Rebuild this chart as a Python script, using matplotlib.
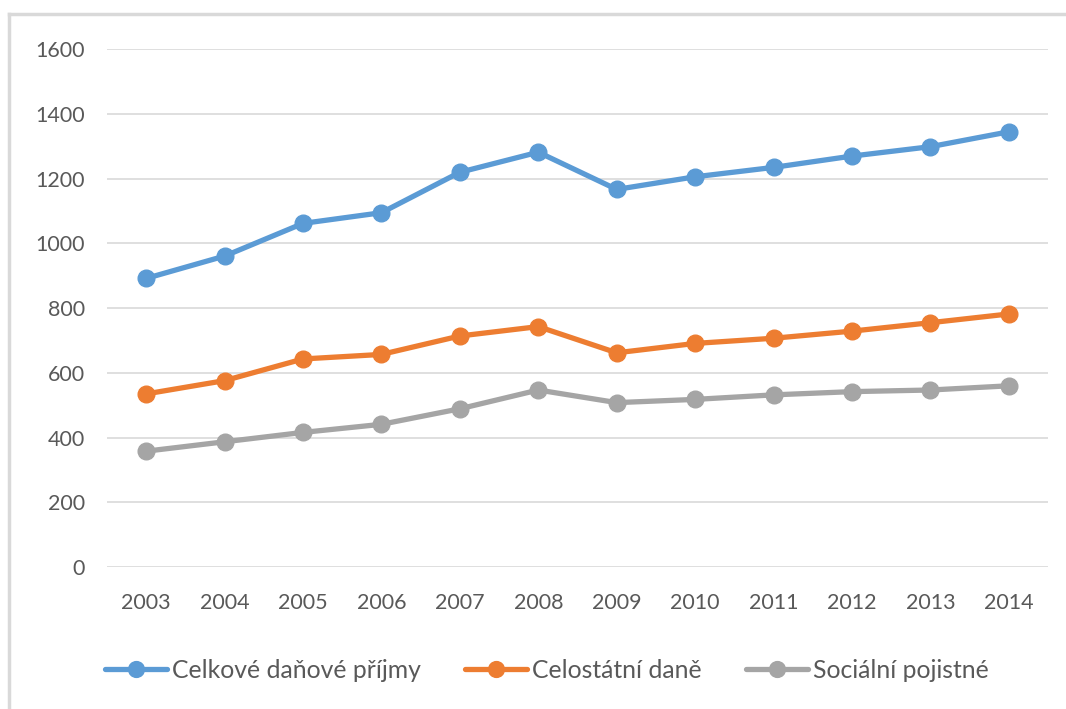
import matplotlib
matplotlib.use("Agg")
import matplotlib.pyplot as plt
from matplotlib.lines import Line2D

# Tax revenue series (bn CZK)
years = ["2003", "2004", "2005", "2006", "2007", "2008",
         "2009", "2010", "2011", "2012", "2013", "2014"]
celkove = [892, 961, 1062, 1095, 1220, 1282, 1167, 1206, 1235, 1270, 1299, 1345]
celostatni = [535, 576, 643, 657, 714, 743, 662, 691, 707, 729, 755, 782]
socialni = [358, 387, 416, 441, 489, 547, 508, 518, 532, 542, 547, 560]

series_names = ["Celkové daňové příjmy", "Celostátní daně", "Sociální pojistné"]
colors = ["#5B9BD5", "#ED7D31", "#A5A5A5"]

plt.rcParams["font.family"] = ["Lato", "DejaVu Sans"]
text_color = "#595959"
fs = 15.5
legend_fs = 17.8

W, H = 1066, 709
fig = plt.figure(figsize=(W / 100, H / 100), dpi=100)
ax = fig.add_axes([107 / W, 1 - 567 / H, (1048 - 107) / W, (567 - 49.3) / H])

x = list(range(len(years)))
for vals, name, c in zip([celkove, celostatni, socialni], series_names, colors):
    ax.plot(x, vals, color=c, lw=3.8, marker="o", ms=12, label=name,
            solid_capstyle="round", zorder=3)

ax.set_xlim(-0.5, len(years) - 0.5)
ax.set_ylim(0, 1600)
ax.set_yticks(range(0, 1601, 200))
ax.set_xticks(x)
ax.set_xticklabels(years)
ax.grid(axis="y", color="#D9D9D9", lw=1.2)
ax.set_axisbelow(True)
for s in ax.spines.values():
    s.set_visible(False)
ax.tick_params(axis="both", length=0, labelsize=fs, labelcolor=text_color)
ax.tick_params(axis="y", pad=16)
ax.tick_params(axis="x", pad=19)

handles, labels = ax.get_legend_handles_labels()
fig.legend(handles, labels, loc="center left",
           bbox_to_anchor=(105 / W, 1 - 670 / H), ncol=3, frameon=False,
           fontsize=legend_fs, labelcolor=text_color, handlelength=2.5,
           handletextpad=0.2, columnspacing=1.8, borderpad=0,
           borderaxespad=0, markerscale=0.95)

# outer chart frame (top and left edges)
border = "#D9D9D9"
fig.add_artist(Line2D([9 / W, 1.0], [1 - 14 / H, 1 - 14 / H],
                      transform=fig.transFigure, color=border, lw=2.5))
fig.add_artist(Line2D([9 / W, 9 / W], [0, 1 - 14 / H],
                      transform=fig.transFigure, color=border, lw=2.5))

fig.savefig("out.png", dpi=100)
